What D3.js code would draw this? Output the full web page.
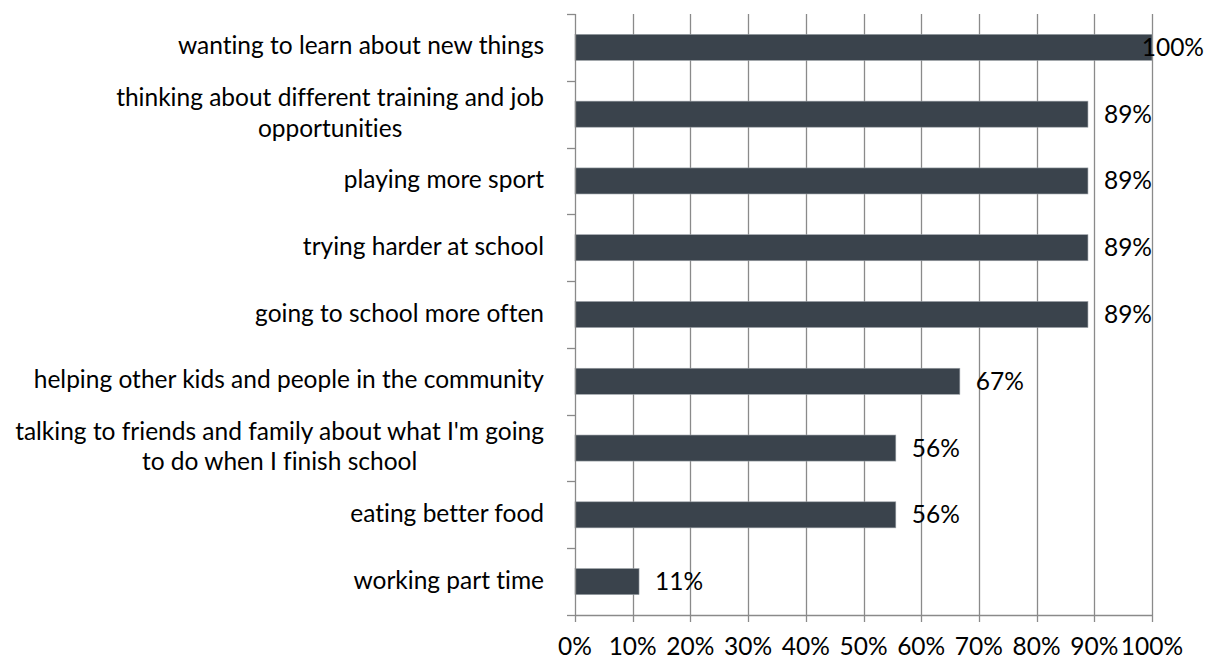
<!DOCTYPE html>
<html>
<head>
<meta charset="utf-8">
<script src="https://cdn.jsdelivr.net/npm/d3@7"></script>
<style>
  html, body { margin: 0; padding: 0; background: #ffffff; }
  svg { display: block; }
  text { font-family: Lato, "Open Sans", sans-serif; fill: #000; font-variant-ligatures: none; font-feature-settings: "liga" 0, "clig" 0; }
</style>
</head>
<body>
<svg id="chart" width="1216" height="660"></svg>
<script>
// ---- data ----
const categories = [
  "wanting to learn about new things",
  "thinking about different training and job\nopportunities",
  "playing more sport",
  "trying harder at school",
  "going to school more often",
  "helping other kids and people in the community",
  "talking to friends and family about what I'm going\nto do when I finish school",
  "eating better food",
  "working part time"
];
const values = [100, 88.9, 88.9, 88.9, 88.9, 66.7, 55.6, 55.6, 11.1];
const valueLabels = ["100%", "89%", "89%", "89%", "89%", "67%", "56%", "56%", "11%"];
const xTicks = [0, 10, 20, 30, 40, 50, 60, 70, 80, 90, 100];
const xTickLabels = ["0%", "10%", "20%", "30%", "40%", "50%", "60%", "70%", "80%", "90%", "100%"];

// ---- layout ----
const W = 1216, H = 660;
const plot = { left: 575, right: 1152, top: 14, bottom: 615 };
const fontSize = 24.5;
const gridColor = "#8a8a8a";
const barColor = "#3a434c";

const svg = d3.select("#chart");

const x = d3.scaleLinear().domain([0, 100]).range([plot.left, plot.right]);
const slot = d3.scaleBand().domain(d3.range(categories.length)).range([plot.top, plot.bottom]).padding(0);
const y = d3.scaleBand().domain(d3.range(categories.length)).range([plot.top, plot.bottom])
  .paddingInner(0.61).paddingOuter(0.305);

// gridlines
svg.append("g").selectAll("line").data(xTicks.filter(d => d > 0)).join("line")
  .attr("x1", d => Math.round(x(d)) + 0.5).attr("x2", d => Math.round(x(d)) + 0.5)
  .attr("y1", plot.top).attr("y2", plot.bottom)
  .attr("stroke", gridColor).attr("stroke-width", 1.3);

// bars
svg.append("g").selectAll("rect").data(values).join("rect")
  .attr("x", x(0))
  .attr("y", (d, i) => y(i))
  .attr("width", d => x(d) - x(0))
  .attr("height", y.bandwidth())
  .attr("fill", barColor)
  .attr("stroke", "#9aa0a6").attr("stroke-width", 0.6);

// y axis line + ticks (category boundaries)
const yAxis = svg.append("g");
yAxis.append("line")
  .attr("x1", plot.left + 0.5).attr("x2", plot.left + 0.5)
  .attr("y1", plot.top).attr("y2", plot.bottom)
  .attr("stroke", gridColor).attr("stroke-width", 1.3);
const bounds = d3.range(categories.length).map(i => slot(i)).concat([slot(categories.length - 1) + slot.bandwidth()]);
yAxis.selectAll("line.tick").data(bounds).join("line").attr("class", "tick")
  .attr("x1", plot.left - 8).attr("x2", plot.left + 0.5)
  .attr("y1", d => Math.round(d) + 0.5).attr("y2", d => Math.round(d) + 0.5)
  .attr("stroke", gridColor).attr("stroke-width", 1.3);

// x axis line + ticks
const xAxis = svg.append("g");
xAxis.append("line")
  .attr("x1", plot.left).attr("x2", plot.right + 0.5)
  .attr("y1", plot.bottom + 0.5).attr("y2", plot.bottom + 0.5)
  .attr("stroke", gridColor).attr("stroke-width", 1.3);
xAxis.selectAll("line.tick").data(xTicks).join("line").attr("class", "tick")
  .attr("x1", d => Math.round(x(d)) + 0.5).attr("x2", d => Math.round(x(d)) + 0.5)
  .attr("y1", plot.bottom).attr("y2", plot.bottom + 7)
  .attr("stroke", gridColor).attr("stroke-width", 1.3);
xAxis.selectAll("text").data(xTicks).join("text")
  .attr("x", d => x(d)).attr("y", 655)
  .attr("text-anchor", "middle")
  .attr("font-size", fontSize)
  .text((d, i) => xTickLabels[i]);

// category labels: block right aligned, lines centered
const labelRight = 544;
const lineGap = 30.7;
const catG = svg.append("g");
categories.forEach((c, i) => {
  const lines = c.split("\n");
  const t = catG.append("text").attr("font-size", fontSize).attr("text-anchor", "middle");
  const cy = y(i) + y.bandwidth() / 2;
  const tspans = lines.map((ln, k) => t.append("tspan")
    .attr("y", cy + 7 + (k - (lines.length - 1) / 2) * lineGap)
    .text(ln));
  const widths = tspans.map(ts => ts.node().getComputedTextLength());
  const maxW = d3.max(widths);
  tspans.forEach(ts => ts.attr("x", labelRight - maxW / 2));
});

// value labels
const valG = svg.append("g");
values.forEach((v, i) => {
  const cy = y(i) + y.bandwidth() / 2;
  const t = valG.append("text").attr("font-size", fontSize)
    .attr("y", cy + 8.5)
    .text(valueLabels[i]);
  const w = t.node().getComputedTextLength();
  let tx = x(v) + 16;
  if (tx + w > W - 12) tx = W - 12 - w;
  t.attr("x", tx);
});
</script>
</body>
</html>
